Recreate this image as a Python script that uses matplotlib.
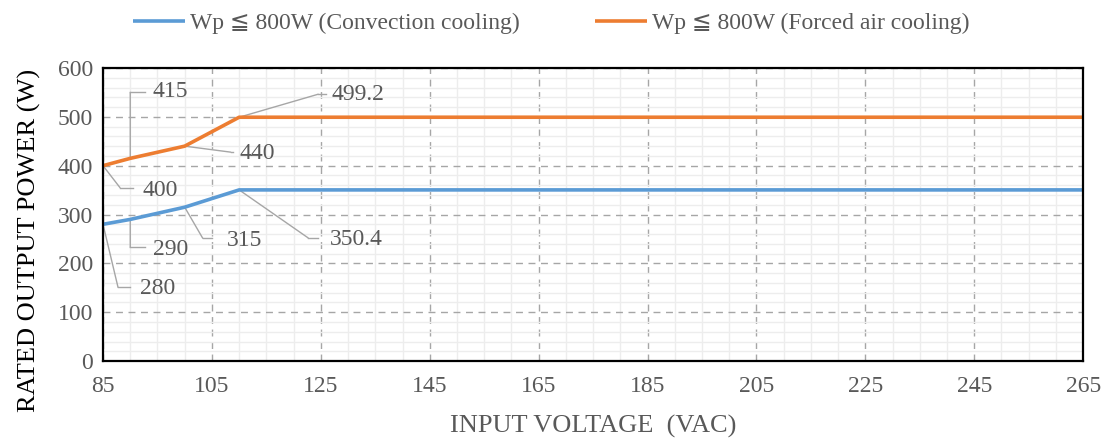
import matplotlib
matplotlib.use("Agg")
import matplotlib.pyplot as plt
import numpy as np
from matplotlib.ticker import MultipleLocator

plt.rcParams['font.family'] = ['Liberation Serif', 'DejaVu Sans']

# ---------------- data ----------------
voltage = [85, 90, 100, 110, 265]
convection = [280, 290, 315, 350.4, 350.4]
forced = [400, 415, 440, 499.2, 499.2]

labels_conv = ['Wp ≦ 800W (Convection cooling)']
labels_forced = ['Wp ≦ 800W (Forced air cooling)']

# data labels: (x, y, text)
ann_points = [
    (90, 415, '415'),
    (110, 499.2, '499.2'),
    (100, 440, '440'),
    (85, 400, '400'),
    (90, 290, '290'),
    (100, 315, '315'),
    (110, 350.4, '350.4'),
    (85, 280, '280'),
]
# leader layout in pixels: elbow (dx, dy), end of horizontal piece dx, text (dx, dy)
ann_layout = [
    ((0, 66), 15, (22, 67)),
    ((79, 23), 87, (92, 23)),
    ((46, -6), 48, (55, -7)),
    ((17, -22), 30, (39, -25)),
    ((0, -28), 15, (23, -30)),
    ((18, -31), 27, (42, -33)),
    ((69, -48), 79, (91, -50)),
    ((15, -63), 27, (37, -64)),
]

BLUE = '#5B9BD5'
ORANGE = '#ED7D31'
GRAY_TXT = '#595959'
LEADER = '#A6A6A6'

fig = plt.figure(figsize=(11.03, 4.43), dpi=100)
ax = fig.add_axes([0.0934, 0.185, 0.8886, 0.6615])

ax.plot(voltage, convection, color=BLUE, lw=2.6, label=labels_conv[0], zorder=4,
        solid_capstyle='butt')
ax.plot(voltage, forced, color=ORANGE, lw=2.6, label=labels_forced[0], zorder=4,
        solid_capstyle='butt')

ax.set_xlim(85, 265)
ax.set_ylim(0, 600)
ax.set_xticks(np.arange(85, 266, 20))
ax.set_yticks(np.arange(0, 601, 100))
ax.xaxis.set_minor_locator(MultipleLocator(5))
ax.yaxis.set_minor_locator(MultipleLocator(20))

ax.grid(which='minor', color='#EDEDED', lw=1.0, ls='-', zorder=0)
ax.grid(which='major', color='#A6A6A6', lw=1.0, ls=(0, (5, 4)), zorder=1)
ax.set_axisbelow(True)

ax.tick_params(which='both', length=0)
ax.tick_params(axis='both', labelsize=17, colors=GRAY_TXT)
ax.tick_params(axis='y', pad=7)
ax.tick_params(axis='x', pad=11)

for s in ax.spines.values():
    s.set_color('black')
    s.set_linewidth(1.6)
    s.set_zorder(5)

ax.set_xlabel('INPUT VOLTAGE  (VAC)', fontsize=19, color=GRAY_TXT, labelpad=13)
ax.set_ylabel('RATED OUTPUT POWER (W)', fontsize=19, color='black')
ax.yaxis.set_label_coords(-0.063, 0.41)

# data labels with leader lines
for (x, y, txt), (elbow, hend, tpos) in zip(ann_points, ann_layout):
    ax.annotate('', xy=(x, y), xytext=elbow, textcoords='offset pixels',
                arrowprops=dict(arrowstyle='-', color=LEADER, lw=1.0,
                                shrinkA=0, shrinkB=0), zorder=3)
    pt = ax.transData.transform((x, y))
    inv = ax.transData.inverted()
    p0 = inv.transform((pt[0] + elbow[0], pt[1] + elbow[1]))
    p1 = inv.transform((pt[0] + hend, pt[1] + elbow[1]))
    ax.plot([p0[0], p1[0]], [p0[1], p1[1]], color=LEADER, lw=1.0, zorder=3,
            clip_on=False)
    ax.annotate(txt, xy=(x, y), xytext=tpos, textcoords='offset pixels',
                fontsize=17, color=GRAY_TXT, ha='left', va='center', zorder=6)

leg = fig.legend(loc='upper center', bbox_to_anchor=(0.5, 1.02), ncol=2,
                 frameon=False, fontsize=17, handlelength=2.2,
                 columnspacing=3.2, handletextpad=0.2)
for t in leg.get_texts():
    t.set_color(GRAY_TXT)

fig.savefig('out.png', dpi=100)
